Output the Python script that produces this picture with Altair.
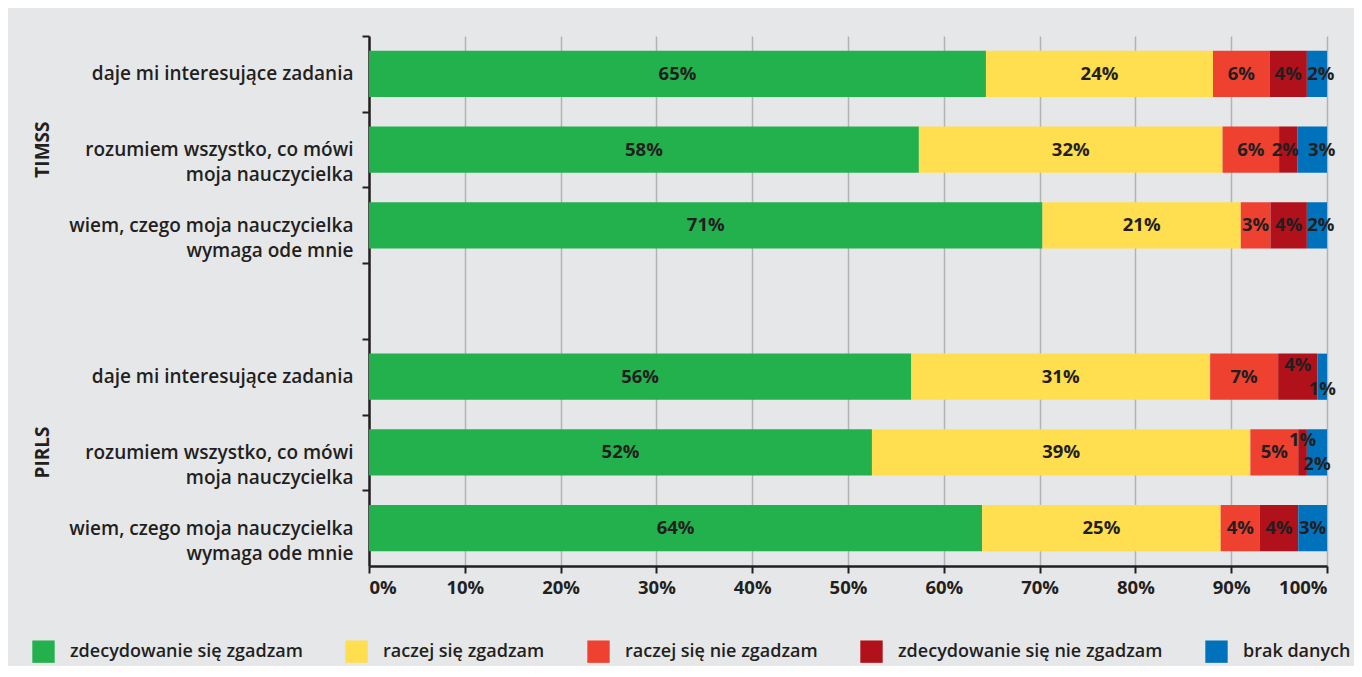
import altair as alt
import pandas as pd

# ---------------- data ----------------
groups = ["TIMSS", "TIMSS", "TIMSS", "PIRLS", "PIRLS", "PIRLS"]
questions = [
    "daje mi interesujące zadania",
    "rozumiem wszystko, co mówi~moja nauczycielka",
    "wiem, czego moja nauczycielka~wymaga ode mnie",
    "daje mi interesujące zadania",
    "rozumiem wszystko, co mówi~moja nauczycielka",
    "wiem, czego moja nauczycielka~wymaga ode mnie",
]
categories = [
    "zdecydowanie się zgadzam",
    "raczej się zgadzam",
    "raczej się nie zgadzam",
    "zdecydowanie się nie zgadzam",
    "brak danych",
]
strongly_agree = [64.4, 57.4, 70.3, 56.6, 52.5, 64.0]
rather_agree = [23.7, 31.7, 20.7, 31.2, 39.5, 24.9]
rather_disagree = [5.9, 5.9, 3.1, 7.1, 5.0, 4.1]
strongly_disagree = [3.9, 1.9, 3.8, 4.1, 0.9, 4.0]
no_data = [2.1, 3.1, 2.1, 1.0, 2.1, 3.0]

label_strongly_agree = ["65%", "58%", "71%", "56%", "52%", "64%"]
label_rather_agree = ["24%", "32%", "21%", "31%", "39%", "25%"]
label_rather_disagree = ["6%", "6%", "3%", "7%", "5%", "4%"]
label_strongly_disagree = ["4%", "2%", "4%", "4%", "1%", "4%"]
label_no_data = ["2%", "3%", "2%", "1%", "2%", "3%"]

# ---------------- style ----------------
colors = ["#22b14c", "#ffde50", "#ef4130", "#b0111a", "#0072bc"]
BG = "#e6e7e9"
TXT = "#231f20"
FONT = "Open Sans"
W, H = 958, 530
STEP = H / 7.0
# small-label nudges (row index, category index) -> vertical dy (px)
shift_y = {(3, 3): -12, (3, 4): 12, (4, 3): -12, (4, 4): 12}
# small-label nudges (row index, category index) -> horizontal shift (axis units)
shift_x = {(0, 4): 0.4, (1, 3): -0.3, (1, 4): 1.0, (2, 4): 0.4}

series = [strongly_agree, rather_agree, rather_disagree, strongly_disagree, no_data]
labels = [label_strongly_agree, label_rather_agree, label_rather_disagree,
          label_strongly_disagree, label_no_data]

keys = [f"{g}|{q}" for g, q in zip(groups, questions)]
domain = keys[:3] + ["gap"] + keys[3:]

rows = []
for r, k in enumerate(keys):
    for c, cat in enumerate(categories):
        rows.append({
            "key": k, "category": cat, "order": c,
            "value": series[c][r], "label": labels[c][r],
            "dy": shift_y.get((r, c), 0),
            "nx": shift_x.get((r, c), 0.0),
        })
df = pd.DataFrame(rows)

grp_df = pd.DataFrame({"group": ["TIMSS", "PIRLS"], "key": [keys[1], keys[4]]})

yscale = alt.Scale(domain=domain, paddingInner=0.39, paddingOuter=0.195)

y_enc = alt.Y(
    "key:N", scale=yscale, sort=domain,
    axis=alt.Axis(
        title=None,
        labelExpr="datum.value == 'gap' ? '' : split(split(datum.value, '|')[1], '~')",
        tickOffset=-STEP / 2, labelOffset=STEP / 2,
        labelFont=FONT, labelFontSize=19, labelFontWeight=600, labelColor=TXT,
        labelLineHeight=25, labelPadding=9, labelLimit=400,
        domainColor="#231f20", domainWidth=2.5,
        tickColor="#231f20", tickWidth=2, tickSize=7,
        grid=False,
    ),
)

x_axis = alt.Axis(
    title=None, values=list(range(0, 101, 10)),
    labelExpr="datum.value + '%'",
    labelFont=FONT, labelFontSize=18.5, labelFontWeight=700, labelColor=TXT,
    labelPadding=5,
    domainColor="#231f20", domainWidth=2.5,
    tickColor="#231f20", tickWidth=2, tickSize=7,
    grid=True, gridColor="#b3b3b3", gridWidth=1.5,
)

bars = alt.Chart(df).mark_bar(strokeWidth=0).encode(
    x=alt.X("value:Q", stack="zero", scale=alt.Scale(domain=[0, 100], nice=False), axis=x_axis),
    y=y_enc,
    color=alt.Color(
        "category:N",
        scale=alt.Scale(domain=categories, range=colors),
        legend=alt.Legend(
            title=None, orient="none", legendX=-337, legendY=604,
            direction="horizontal", columns=5, symbolType="square",
            symbolSize=500, symbolStrokeWidth=0, symbolOpacity=1,
            labelFont=FONT, labelFontSize=18, labelFontWeight=600, labelColor=TXT,
            labelOffset=15, columnPadding=42, padding=0, labelLimit=400,
        ),
    ),
    order=alt.Order("order:Q"),
)


def text_layer(dy):
    return alt.Chart(df).transform_stack(
        stack="value", groupby=["key"], as_=["x0", "x1"],
        sort=[alt.SortField("order", order="ascending")],
    ).transform_filter(
        f"datum.dy == {dy}"
    ).transform_calculate(
        mid="(datum.x0 + datum.x1) / 2 + datum.nx"
    ).mark_text(
        font=FONT, fontSize=18.5, fontWeight=700, color=TXT, dy=dy,
    ).encode(
        x=alt.X("mid:Q"),
        y=alt.Y("key:N", scale=yscale, sort=domain),
        text="label:N",
    )


group_labels = alt.Chart(grp_df).mark_text(
    font=FONT, fontSize=19, fontWeight=700, color=TXT, angle=270,
).encode(
    x=alt.value(-326),
    y=alt.Y("key:N", scale=yscale, sort=domain),
    text="group:N",
)

chart = alt.layer(
    bars, text_layer(0), text_layer(-12), text_layer(12), group_labels
).properties(
    width=W, height=H,
    background=BG,
    padding={"left": 361, "top": 28, "right": 27, "bottom": 100},
    autosize=alt.AutoSizeParams(type="none"),
).configure_view(stroke=None)

chart.save("out.html", embed_options={"renderer": "svg", "actions": False})
